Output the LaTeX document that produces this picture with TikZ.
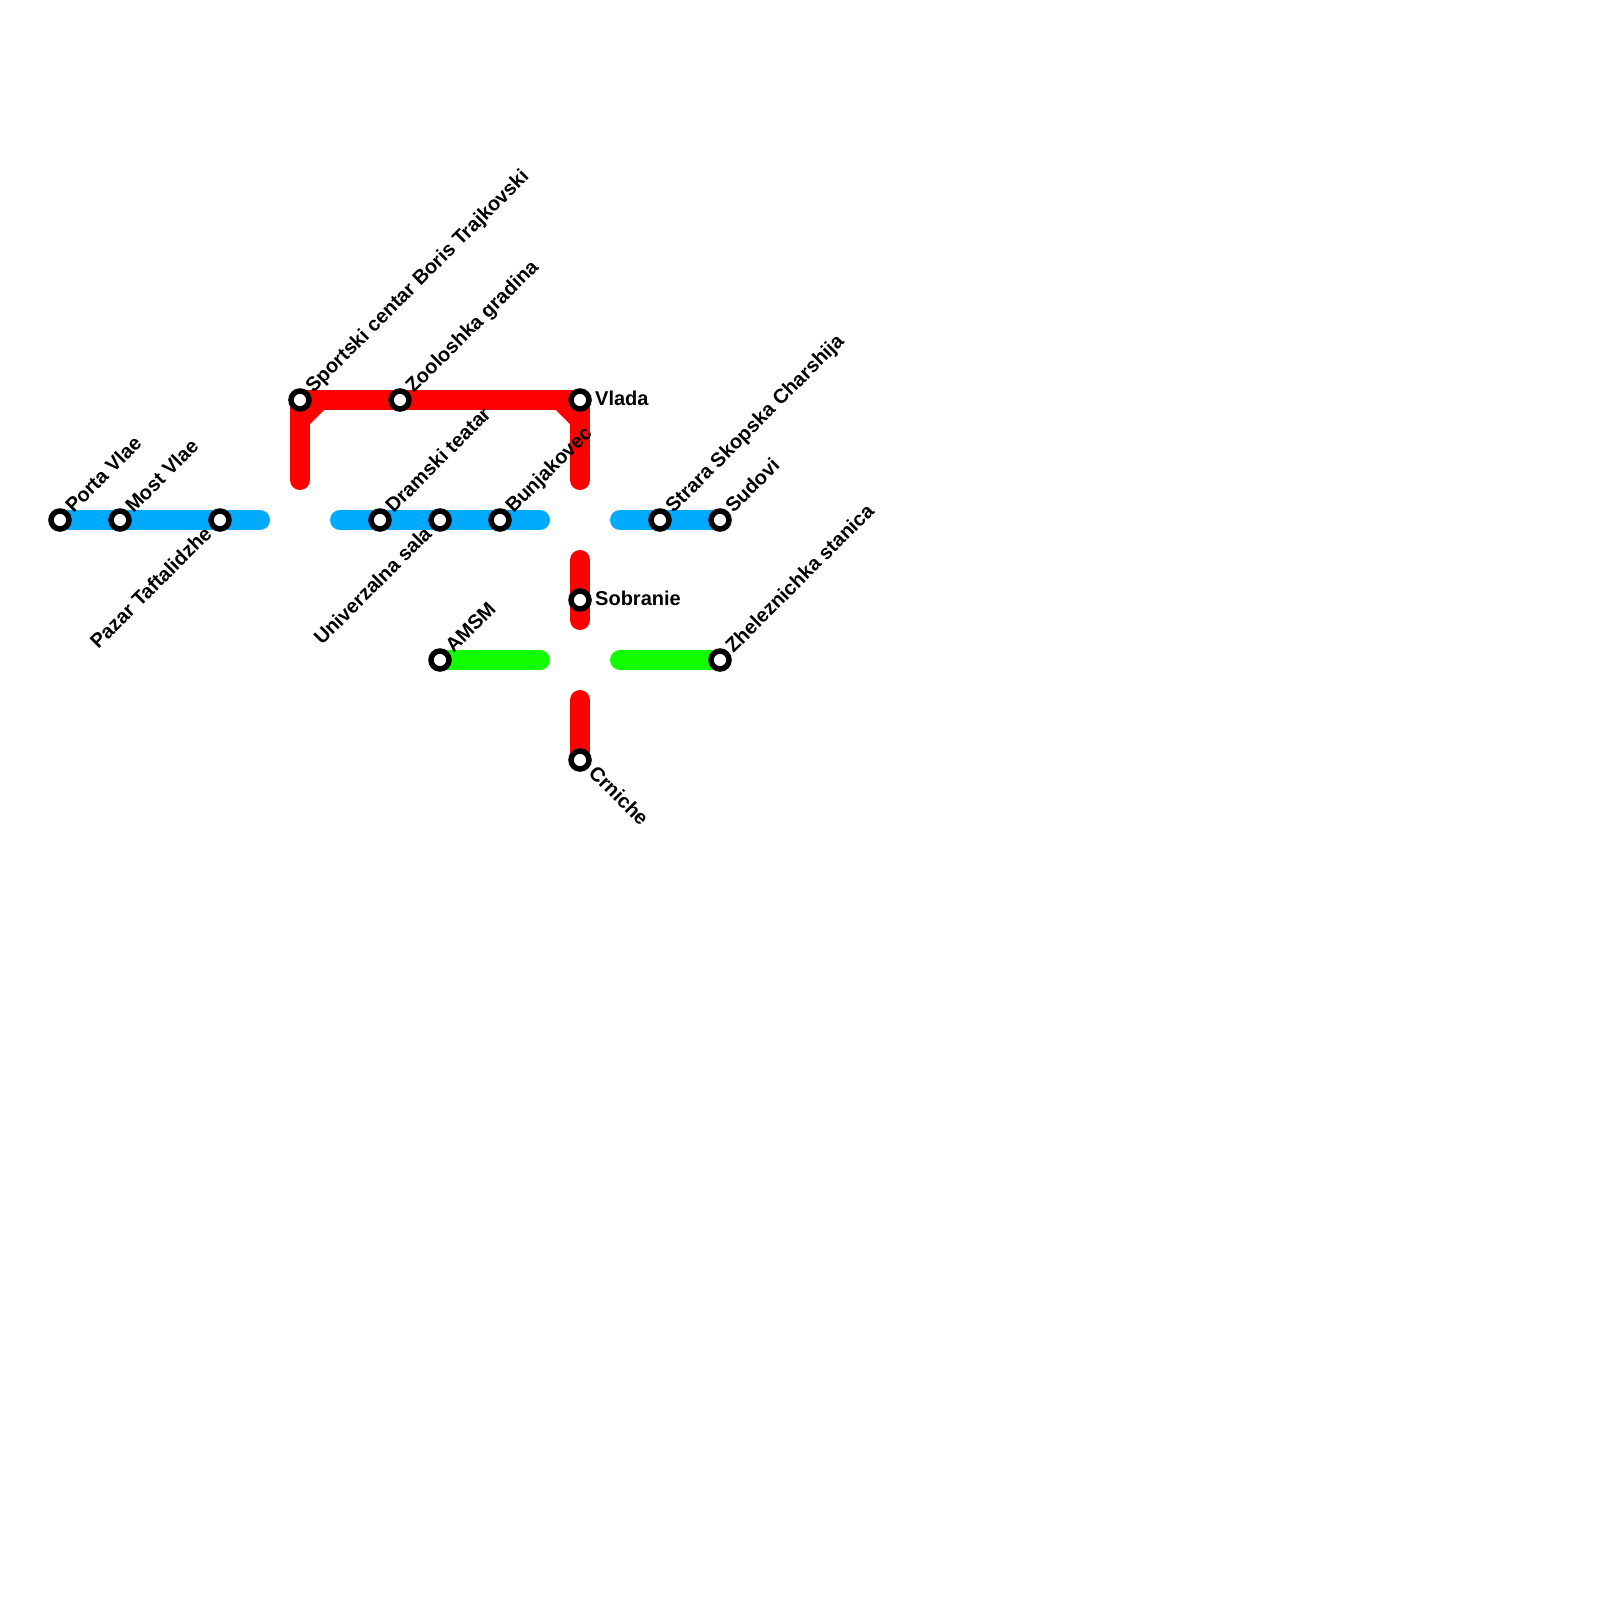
\documentclass[tikz,border=0pt]{standalone}
\usepackage{fontspec}
\setmainfont{Liberation Sans}
\usetikzlibrary{backgrounds}
\definecolor{lineblue}{RGB}{0,170,255}
\definecolor{linegreen}{RGB}{17,255,0}
\definecolor{linered}{RGB}{255,0,0}
\tikzset{
  station/.style={circle,draw=black,fill=white,line width=5.5pt,minimum size=18pt,inner sep=0pt},
  metro/.style={line width=20pt,line cap=round,line join=round},
  blueline/.style={metro,draw=lineblue},
  greenline/.style={metro,draw=linegreen},
  redline/.style={metro,draw=linered},
  lab/.style={font=\fontsize{20}{24}\selectfont\bfseries,inner sep=0pt,text=black},
  labup/.style={lab,anchor=base west,rotate=45},
  labdown/.style={lab,anchor=base east,rotate=45},
  labse/.style={lab,anchor=base west,rotate=-45},
  labright/.style={lab,anchor=base west}
}
\begin{document}
\begin{tikzpicture}[x=1pt,y=-1pt]
\useasboundingbox (0,0) rectangle (1600,1600);
% stations
\node[station] (porta) at (60,520) {};
\node[station] (most) at (120,520) {};
\node[station] (pazar) at (220,520) {};
\node[station] (sport) at (300,400) {};
\node[station] (zoo) at (400,400) {};
\node[station] (vlada) at (580,400) {};
\node[station] (dram) at (380,520) {};
\node[station] (univ) at (440,520) {};
\node[station] (bunj) at (500,520) {};
\node[station] (strara) at (660,520) {};
\node[station] (sudovi) at (720,520) {};
\node[station] (sobr) at (580,600) {};
\node[station] (crn) at (580,760) {};
\node[station] (amsm) at (440,660) {};
\node[station] (zhel) at (720,660) {};
% free ends and bends
\coordinate (b1) at (260,520);
\coordinate (b2) at (340,520);
\coordinate (b3) at (540,520);
\coordinate (b4) at (620,520);
\coordinate (g1) at (540,660);
\coordinate (g2) at (620,660);
\coordinate (r1) at (300,480);
\coordinate (r2) at (580,480);
\coordinate (r3) at (580,560);
\coordinate (r4) at (580,620);
\coordinate (r5) at (580,700);
\coordinate (c1) at (300,420);
\coordinate (c2) at (320,400);
\coordinate (c3) at (560,400);
\coordinate (c4) at (580,420);
\begin{scope}[on background layer]
\draw[blueline] (porta.center) -- (most.center) -- (pazar.center) -- (b1);
\draw[blueline] (b2) -- (dram.center) -- (univ.center) -- (bunj.center) -- (b3);
\draw[blueline] (b4) -- (strara.center) -- (sudovi.center);
\draw[greenline] (amsm.center) -- (g1);
\draw[greenline] (g2) -- (zhel.center);
\draw[redline] (r1) -- (sport.center) -- (zoo.center) -- (vlada.center) -- (r2);
\draw[redline,line cap=butt] (c1) -- (c2);
\draw[redline,line cap=butt] (c3) -- (c4);
\draw[redline] (r3) -- (sobr.center) -- (r4);
\draw[redline] (r5) -- (crn.center);
\end{scope}
% labels
\node[labup] (lporta) at (73.5,514) {Porta Vlae};
\node[labup] (lmost) at (133.5,514) {Most Vlae};
\node[labdown] (lpazar) at (213,535) {Pazar Taftalidzhe};
\node[labup] (lsport) at (313.5,394) {Sportski centar Boris Trajkovski};
\node[labup] (lzoo) at (413.5,394) {Zooloshka gradina};
\node[labright] (lvlada) at (595,405) {Vlada};
\node[labup] (ldram) at (393.5,514) {Dramski teatar};
\node[labdown] (luniv) at (433,535) {Univerzalna sala};
\node[labup] (lbunj) at (513.5,514) {Bunjakovec};
\node[labup] (lstrara) at (673.5,514) {Strara Skopska Charshija};
\node[labup] (lsudovi) at (733.5,514) {Sudovi};
\node[labright] (lsobr) at (595,605) {Sobranie};
\node[labse] (lcrn) at (587.5,774) {Crniche};
\node[labup] (lamsm) at (453.5,654) {AMSM};
\node[labup] (lzhel) at (733.5,654) {Zheleznichka stanica};
\end{tikzpicture}
\end{document}
